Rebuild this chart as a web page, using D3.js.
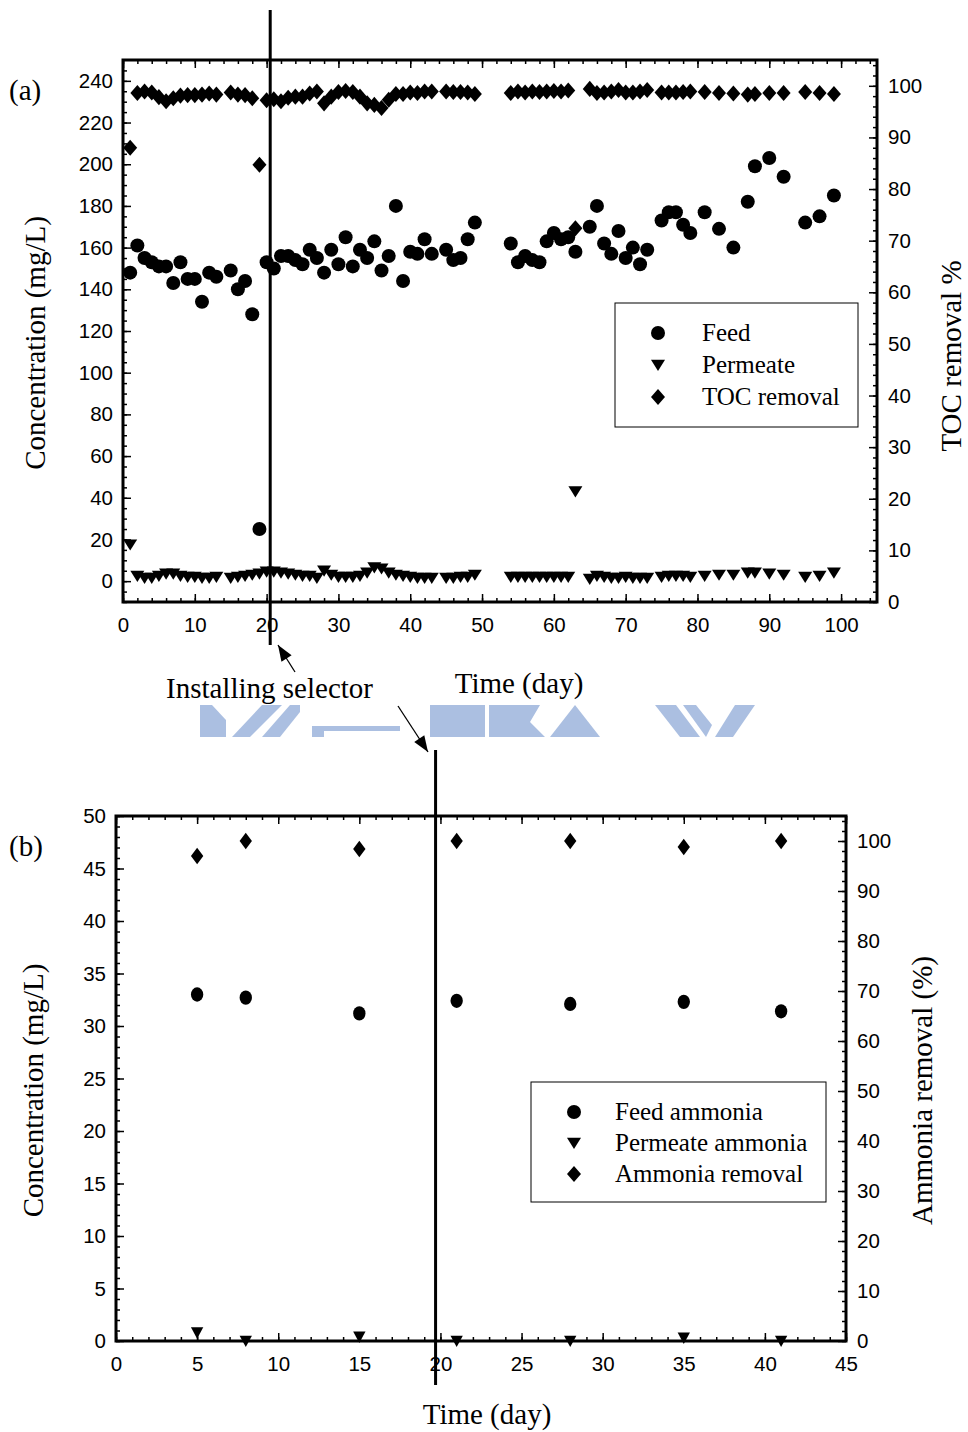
<!DOCTYPE html>
<html>
<head>
<meta charset="utf-8">
<script src="https://cdn.jsdelivr.net/npm/d3@7"></script>
<style>
  body { margin: 0; background: #fff; }
  .tick text { font-family: "Liberation Sans", Arial, sans-serif; font-size: 20.5px; fill: #000; }
  .serif { font-family: "Liberation Serif", "Times New Roman", serif; fill: #000; }
</style>
</head>
<body>
<div id="vis-container"></div>
<script>
// ---- panel (a): TOC ----
const tocDays = [1,2,3,4,5,6,7,8,9,10,11,12,13,15,16,17,18,19,20,21,22,23,24,25,26,27,28,29,30,31,32,33,34,35,36,37,38,39,40,41,42,43,45,46,47,48,49,54,55,56,57,58,59,60,61,62,63,65,66,67,68,69,70,71,72,73,75,76,77,78,79,81,83,85,87,88,90,92,95,97,99];
const tocFeed = [148,161,155,153,151,151,143,153,145,145,134,148,146,149,140,144,128,25,153,150,156,156,154,152,159,155,148,159,152,165,151,159,155,163,149,156,180,144,158,157,164,157,159,154,155,164,172,162,153,156,154,153,163,167,164,165,158,170,180,162,157,168,155,160,152,159,173,177,177,171,167,177,169,160,182,199,203,194,172,175,185];
const tocPermeate = [17.5,2.5,1.5,1.5,2.5,3.5,3.5,2.5,2,2,1.5,1.5,2,1.5,2,2.5,3,3.5,4.5,4.5,4,3.5,3,2.5,2.5,1.5,5,3,2,2,2,2.5,4,6.5,6,4,3,2.5,2,1.5,1.5,1.5,1.5,1.5,2,2,3,2,2,2,2,2,2,2,2,2,43,1,2.5,2,1.5,1.5,2,1.5,1.5,1.5,2,2.5,2.5,2.5,2,2.5,3,3,4,4,3.5,3,2,2.5,4];
const tocRemoval = [88,98.6,98.9,98.7,97.8,97.0,97.6,98.1,98.2,98.2,98.3,98.5,98.3,98.7,98.3,98.2,97.6,84.7,97.2,97.4,97.0,97.7,97.9,97.9,98.5,98.9,96.6,97.9,98.8,99.0,98.8,97.9,96.6,96.3,95.7,97.3,98.4,98.4,98.7,98.6,98.9,98.9,98.9,98.8,98.8,98.7,98.4,98.6,98.9,98.7,98.9,98.8,98.9,99.0,98.9,99.1,72.4,99.4,98.6,98.7,98.9,99.2,98.7,98.7,98.9,99.2,98.7,98.7,98.7,98.8,98.9,98.8,98.6,98.5,98.3,98.4,98.6,98.6,98.8,98.6,98.4];
const tocLegend = ["Feed", "Permeate", "TOC removal"];

// ---- panel (b): ammonia ----
const nh3Days = [5,8,15,21,28,35,41];
const nh3Feed = [33.0,32.7,31.2,32.4,32.1,32.3,31.4];
const nh3Permeate = [0.8,0,0.4,0,0,0.3,0];
const nh3Removal = [97,100,98.4,100,100,98.8,100];
const nh3Legend = ["Feed ammonia", "Permeate ammonia", "Ammonia removal"];

// selector installation (drawn as vertical line)
const selectorDayA = 20.5;
const selectorDayB = 19.7;

const W = 968, H = 1432;
const svg = d3.select("#vis-container").append("svg").attr("width", W).attr("height", H);

// marker paths
function marker(type, s) {
  if (type === "circle") return d3.symbol(d3.symbolCircle, Math.PI * s * s)();
  if (type === "tri") return `M${-s},${-s*0.75}L${s},${-s*0.75}L0,${s*0.85}Z`;
  return `M0,${-s*1.15}L${s},0L0,${s*1.15}L${-s},0Z`;
}

function panel(cfg) {
  const g = svg.append("g");
  const x = d3.scaleLinear().domain(cfg.xDom).range([cfg.left, cfg.right]);
  const yL = d3.scaleLinear().domain(cfg.yLDom).range([cfg.bottom, cfg.top]);
  const yR = d3.scaleLinear().domain(cfg.yRDom).range([cfg.bottom, cfg.top]);

  function addAxis(gen, transform, major, minor, labels, pad) {
    g.append("g").attr("transform", transform)
      .call(gen.tickValues(minor).tickSize(-4).tickFormat(""))
      .call(a => a.select(".domain").remove())
      .call(a => a.selectAll("line").attr("stroke", "#000").attr("stroke-width", 1.5));
    g.append("g").attr("transform", transform)
      .call(gen.tickValues(major).tickSize(-8).tickPadding(pad).tickFormat(labels ? d3.format("d") : ""))
      .call(a => a.select(".domain").remove())
      .call(a => a.selectAll("line").attr("stroke", "#000").attr("stroke-width", 1.5));
  }
  addAxis(d3.axisBottom(x), `translate(0,${cfg.bottom})`, cfg.xMajor, cfg.xMinor, true, 15);
  addAxis(d3.axisTop(x), `translate(0,${cfg.top})`, cfg.xMajor, cfg.xMinor, false, 4);
  addAxis(d3.axisLeft(yL), `translate(${cfg.left},0)`, cfg.yLMajor, cfg.yLMinor, true, 10);
  addAxis(d3.axisRight(yR), `translate(${cfg.right},0)`, cfg.yRMajor, cfg.yRMinor, true, 11);

  g.append("rect").attr("x", cfg.left).attr("y", cfg.top)
    .attr("width", cfg.right - cfg.left).attr("height", cfg.bottom - cfg.top)
    .attr("fill", "none").attr("stroke", "#000").attr("stroke-width", 3);

  const series = [
    {vals: cfg.feed, type: "circle", scale: yL},
    {vals: cfg.perm, type: "tri", scale: yL},
    {vals: cfg.rem, type: "diamond", scale: yR}
  ];
  series.forEach(s => {
    g.append("g").selectAll("path").data(cfg.days.map((d, i) => [d, s.vals[i]])).join("path")
      .attr("d", marker(s.type, cfg.ms))
      .attr("transform", d => `translate(${x(d[0])},${s.scale(d[1])})${cfg.stretch ? " scale(0.95,1.1)" : ""}`)
      .attr("fill", "#000");
  });

  // legend
  const lg = g.append("g");
  lg.append("rect").attr("x", cfg.lgX).attr("y", cfg.lgY).attr("width", cfg.lgW).attr("height", cfg.lgH)
    .attr("fill", "#fff").attr("stroke", "#000").attr("stroke-width", 1);
  ["circle", "tri", "diamond"].forEach((t, i) => {
    const yy = cfg.lgY + 30 + i * cfg.lgStep;
    lg.append("path").attr("d", marker(t, 7)).attr("transform", `translate(${cfg.lgX + 43},${yy})`).attr("fill", "#000");
    lg.append("text").attr("class", "serif").attr("x", cfg.lgX + cfg.lgTx).attr("y", yy + 8)
      .attr("font-size", 25).text(cfg.legend[i]);
  });

  // selector line
  g.append("line").attr("x1", x(cfg.selDay)).attr("x2", x(cfg.selDay))
    .attr("y1", cfg.selY1).attr("y2", cfg.selY2).attr("stroke", "#000").attr("stroke-width", 3);

  // titles
  g.append("text").attr("class", "serif").attr("font-size", 29)
    .attr("transform", `translate(${cfg.ltX},${(cfg.top + cfg.bottom) / 2 + cfg.ltDy}) rotate(-90)`)
    .attr("text-anchor", "middle").text("Concentration (mg/L)");
  g.append("text").attr("class", "serif").attr("font-size", 29)
    .attr("transform", `translate(${cfg.rtX},${(cfg.top + cfg.bottom) / 2 + cfg.rtDy}) rotate(-90)`)
    .attr("text-anchor", "middle").text(cfg.rTitle);
  g.append("text").attr("class", "serif").attr("font-size", 29)
    .attr("x", cfg.xtX).attr("y", cfg.xtY).attr("text-anchor", "middle").text("Time (day)");
  g.append("text").attr("class", "serif").attr("font-size", 29)
    .attr("x", 9).attr("y", cfg.top + 40).text(cfg.tag);
  return x;
}

panel({
  left: 123, right: 877, top: 60, bottom: 602,
  xDom: [0, 105], yLDom: [-10, 250], yRDom: [0, 105],
  xMajor: d3.range(0, 101, 10), xMinor: d3.range(0, 105, 2),
  yLMajor: d3.range(0, 241, 20), yLMinor: d3.range(-10, 250, 5),
  yRMajor: d3.range(0, 101, 10), yRMinor: d3.range(0, 105, 2),
  days: tocDays, feed: tocFeed, perm: tocPermeate, rem: tocRemoval, ms: 7,
  legend: tocLegend, lgX: 615, lgY: 303, lgW: 243, lgH: 124, lgStep: 32, lgTx: 87,
  selDay: selectorDayA, selY1: 10, selY2: 645,
  ltX: 45, ltDy: 12, rtX: 961, rtDy: 25, rTitle: "TOC removal %",
  xtX: 519, xtY: 693, tag: "(a)"
});

panel({
  left: 116, right: 846, top: 816, bottom: 1341,
  xDom: [0, 45], yLDom: [0, 50], yRDom: [0, 105],
  xMajor: d3.range(0, 46, 5), xMinor: d3.range(0, 46, 1),
  yLMajor: d3.range(0, 51, 5), yLMinor: d3.range(0, 51, 1),
  yRMajor: d3.range(0, 101, 10), yRMinor: d3.range(0, 105, 2),
  days: nh3Days, feed: nh3Feed, perm: nh3Permeate, rem: nh3Removal, ms: 6.5, stretch: true,
  legend: nh3Legend, lgX: 531, lgY: 1082, lgW: 295, lgH: 120, lgStep: 31, lgTx: 84,
  selDay: selectorDayB, selY1: 750, selY2: 1385,
  ltX: 43, ltDy: 12, rtX: 932, rtDy: 12, rTitle: "Ammonia removal (%)",
  xtX: 487, xtY: 1424, tag: "(b)"
});

// watermark fragments (light blue, cut off)
const wm = svg.append("g").attr("fill", "#abbfe1");
[
  [[200,737],[226,737],[226,720],[212,705],[200,705]],
  [[232,737],[250,737],[282,705],[262,705]],
  [[262,737],[280,737],[300,712],[300,705],[290,705]],
  [[312,737],[324,737],[324,731],[400,731],[400,726],[312,726]],
  [[430,705],[485,705],[485,737],[430,737]],
  [[489,705],[540,705],[530,722],[545,737],[489,737]],
  [[550,737],[575,705],[600,737]],
  [[655,705],[676,705],[700,737],[680,737]],
  [[683,705],[696,705],[712,725],[706,737]],
  [[715,737],[735,705],[755,705],[733,737]]
].forEach(p => wm.append("polygon").attr("points", p.join(" ")));

// annotation
svg.append("text").attr("class", "serif").attr("font-size", 29)
  .attr("x", 166).attr("y", 698).text("Installing selector");
function arrow(x1, y1, x2, y2) {
  svg.append("line").attr("x1", x1).attr("y1", y1).attr("x2", x2).attr("y2", y2)
    .attr("stroke", "#000").attr("stroke-width", 1.3);
  const a = Math.atan2(y2 - y1, x2 - x1), L = 16, w = 6;
  const bx = x2 - L * Math.cos(a), by = y2 - L * Math.sin(a);
  svg.append("polygon").attr("fill", "#000").attr("points", [
    [x2, y2], [bx + w * Math.sin(a), by - w * Math.cos(a)], [bx - w * Math.sin(a), by + w * Math.cos(a)]
  ].join(" "));
}
arrow(295, 672, 278, 645);
arrow(398, 706, 428, 752);
</script>
</body>
</html>
